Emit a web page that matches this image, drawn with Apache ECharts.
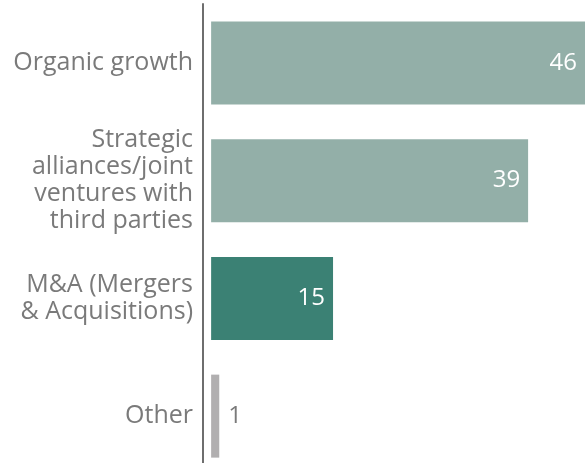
<!DOCTYPE html>
<html><head><meta charset="utf-8">
<script src="https://cdn.jsdelivr.net/npm/echarts@6/dist/echarts.min.js"></script>
<style>html,body{margin:0;padding:0;background:#fff}#c{width:585px;height:463px}</style>
</head><body><div id="c"></div>
<script>
const categories = ["Organic growth", "Strategic\nalliances/joint\nventures with\nthird parties", "M&A (Mergers\n& Acquisitions)", "Other"];
const values = [46, 39, 15, 1];
const barColors = ["#93afa8", "#93afa8", "#3b8174", "#b1afb0"];
const labelColors = ["#ffffff", "#ffffff", "#ffffff", "#7a7a7a"];
const labelPos = ["insideRight", "insideRight", "insideRight", "right"];

const chart = echarts.init(document.getElementById('c'));
const font = "'Open Sans', sans-serif";
chart.setOption({
  animation: false,
  grid: {left: 203, right: 0, top: 4, height: 471, containLabel: false, outerBoundsMode: 'none'},
  xAxis: {type: 'value', min: -1, max: 46, show: false},
  yAxis: {
    type: 'category', data: categories, inverse: true,
    axisLine: {show: true, onZero: false, lineStyle: {color: '#6e6e6e', width: 2}},
    axisTick: {show: false},
    axisLabel: {color: '#7a7a7a', fontSize: 25, fontFamily: font, lineHeight: 27, margin: 10, align: 'right'}
  },
  series: [{
    type: 'bar', barWidth: 83,
    data: values.map((v, i) => ({
      value: v,
      itemStyle: {color: barColors[i]},
      label: {show: true, position: labelPos[i], color: labelColors[i], distance: i === 3 ? 9 : 8,
        fontSize: 24, fontFamily: font}
    }))
  }]
});
</script></body></html>
